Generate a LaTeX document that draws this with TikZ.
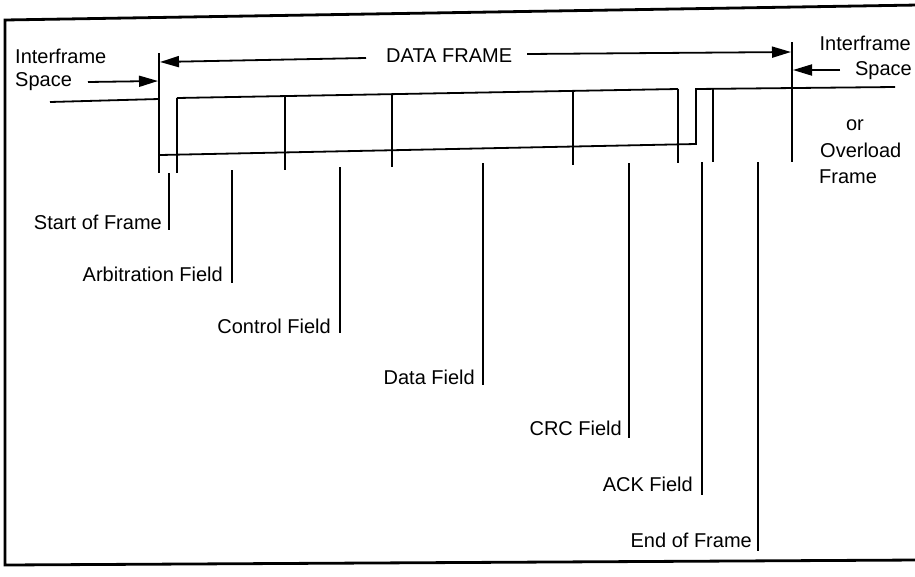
\documentclass[tikz,border=0pt]{standalone}
\usepackage{fontspec}
\setmainfont{Liberation Sans}
\usetikzlibrary{arrows.meta}
\begin{document}
\begin{tikzpicture}[x=1pt,y=-1pt,
  lbl/.style={inner sep=0pt, font=\fontsize{20}{23}\selectfont},
  sig/.style={line width=1.8pt, line join=miter},
  lead/.style={line width=1.7pt},
  arr/.style={line width=1.8pt, -{Triangle[length=19pt,width=11pt]}},
  frameborder/.style={line width=2.8pt}]
\useasboundingbox (0,0) rectangle (915,576);
\fill[white] (0,0) rectangle (915,576);

% border
\coordinate (bTL) at (5,20);
\coordinate (bTR) at (918,5);
\coordinate (bBL) at (5,565);
\coordinate (bBR) at (918,560);
\draw[frameborder] (bTR) -- (bTL) -- (bBL) -- (bBR);

% signal coordinates
\coordinate (L0) at (50,102);
\coordinate (L1) at (159,99);
\coordinate (T0) at (177,98);
\coordinate (T1) at (678,89);
\coordinate (A0) at (696,89);
\coordinate (R1) at (895,87);
\coordinate (B0) at (160,155);
\coordinate (B1) at (696,144);

% idle line left, frame top, low line with ACK step, idle right
\draw[sig] (L0) -- (L1);
\draw[sig] (T0) -- (T1);
\draw[sig] (B0) -- (B1) -- (A0) -- (R1);

% vertical dividers
\coordinate (V0t) at (159,53);  \coordinate (V0b) at (159,173);
\coordinate (V1t) at (177,98);  \coordinate (V1b) at (177,173);
\coordinate (V2t) at (285,96);  \coordinate (V2b) at (285,170);
\coordinate (V3t) at (392,94);  \coordinate (V3b) at (392,167);
\coordinate (V4t) at (573,91);  \coordinate (V4b) at (573,165);
\coordinate (V5t) at (678,89);  \coordinate (V5b) at (678,163);
\coordinate (V6t) at (713,89);  \coordinate (V6b) at (713,162);
\coordinate (V7t) at (792,42);  \coordinate (V7b) at (792,162);
\foreach \v in {V0,V1,V2,V3,V4,V5,V6,V7} \draw[sig] (\v t) -- (\v b);

% labels with leader lines
\node[lbl, anchor=base east] (sof) at (162,229) {Start of Frame};
\node[lbl, anchor=base east] (arb) at (223,281) {Arbitration Field};
\node[lbl, anchor=base east] (ctl) at (331,333) {Control Field};
\node[lbl, anchor=base east] (dat) at (475,384) {Data Field};
\node[lbl, anchor=base east] (crc) at (622,435) {CRC Field};
\node[lbl, anchor=base east] (ack) at (693,491) {ACK Field};
\node[lbl, anchor=base east] (eof) at (752,547) {End of Frame};

\coordinate (l1t) at (169,173); \coordinate (l1b) at (169,230);
\coordinate (l2t) at (232,170); \coordinate (l2b) at (232,283);
\coordinate (l3t) at (340,167); \coordinate (l3b) at (340,333);
\coordinate (l4t) at (483,163); \coordinate (l4b) at (483,385);
\coordinate (l5t) at (629,163); \coordinate (l5b) at (629,438);
\coordinate (l6t) at (702,162); \coordinate (l6b) at (702,495);
\coordinate (l7t) at (758,162); \coordinate (l7b) at (758,551);
\foreach \l in {l1,l2,l3,l4,l5,l6,l7} \draw[lead] (\l t) -- (\l b);

% top labels
\node[lbl, anchor=base west] (ifsL1) at (15,63) {Interframe};
\node[lbl, anchor=base west] (ifsL2) at (15,86) {Space};
\node[lbl, anchor=base west] (df) at (386,62) {DATA FRAME};
\node[lbl, anchor=base east] (ifsR1) at (911,50) {Interframe};
\node[lbl, anchor=base east] (ifsR2) at (912,75) {Space};
\node[lbl, anchor=base] (orR) at (855,130) {or};
\node[lbl, anchor=base west] (ovl) at (820,157) {Overload};
\node[lbl, anchor=base west] (frm) at (819,183) {Frame};

% arrows
\coordinate (a1s) at (88,82);   \coordinate (a1e) at (158,81);
\coordinate (a2s) at (366,58);  \coordinate (a2e) at (160,62);
\coordinate (a3s) at (527,54);  \coordinate (a3e) at (791,52);
\coordinate (a4s) at (840,70);  \coordinate (a4e) at (793,70);
\draw[arr] (a1s) -- (a1e);
\draw[arr] (a2s) -- (a2e);
\draw[arr] (a3s) -- (a3e);
\draw[arr] (a4s) -- (a4e);
\end{tikzpicture}
\end{document}
